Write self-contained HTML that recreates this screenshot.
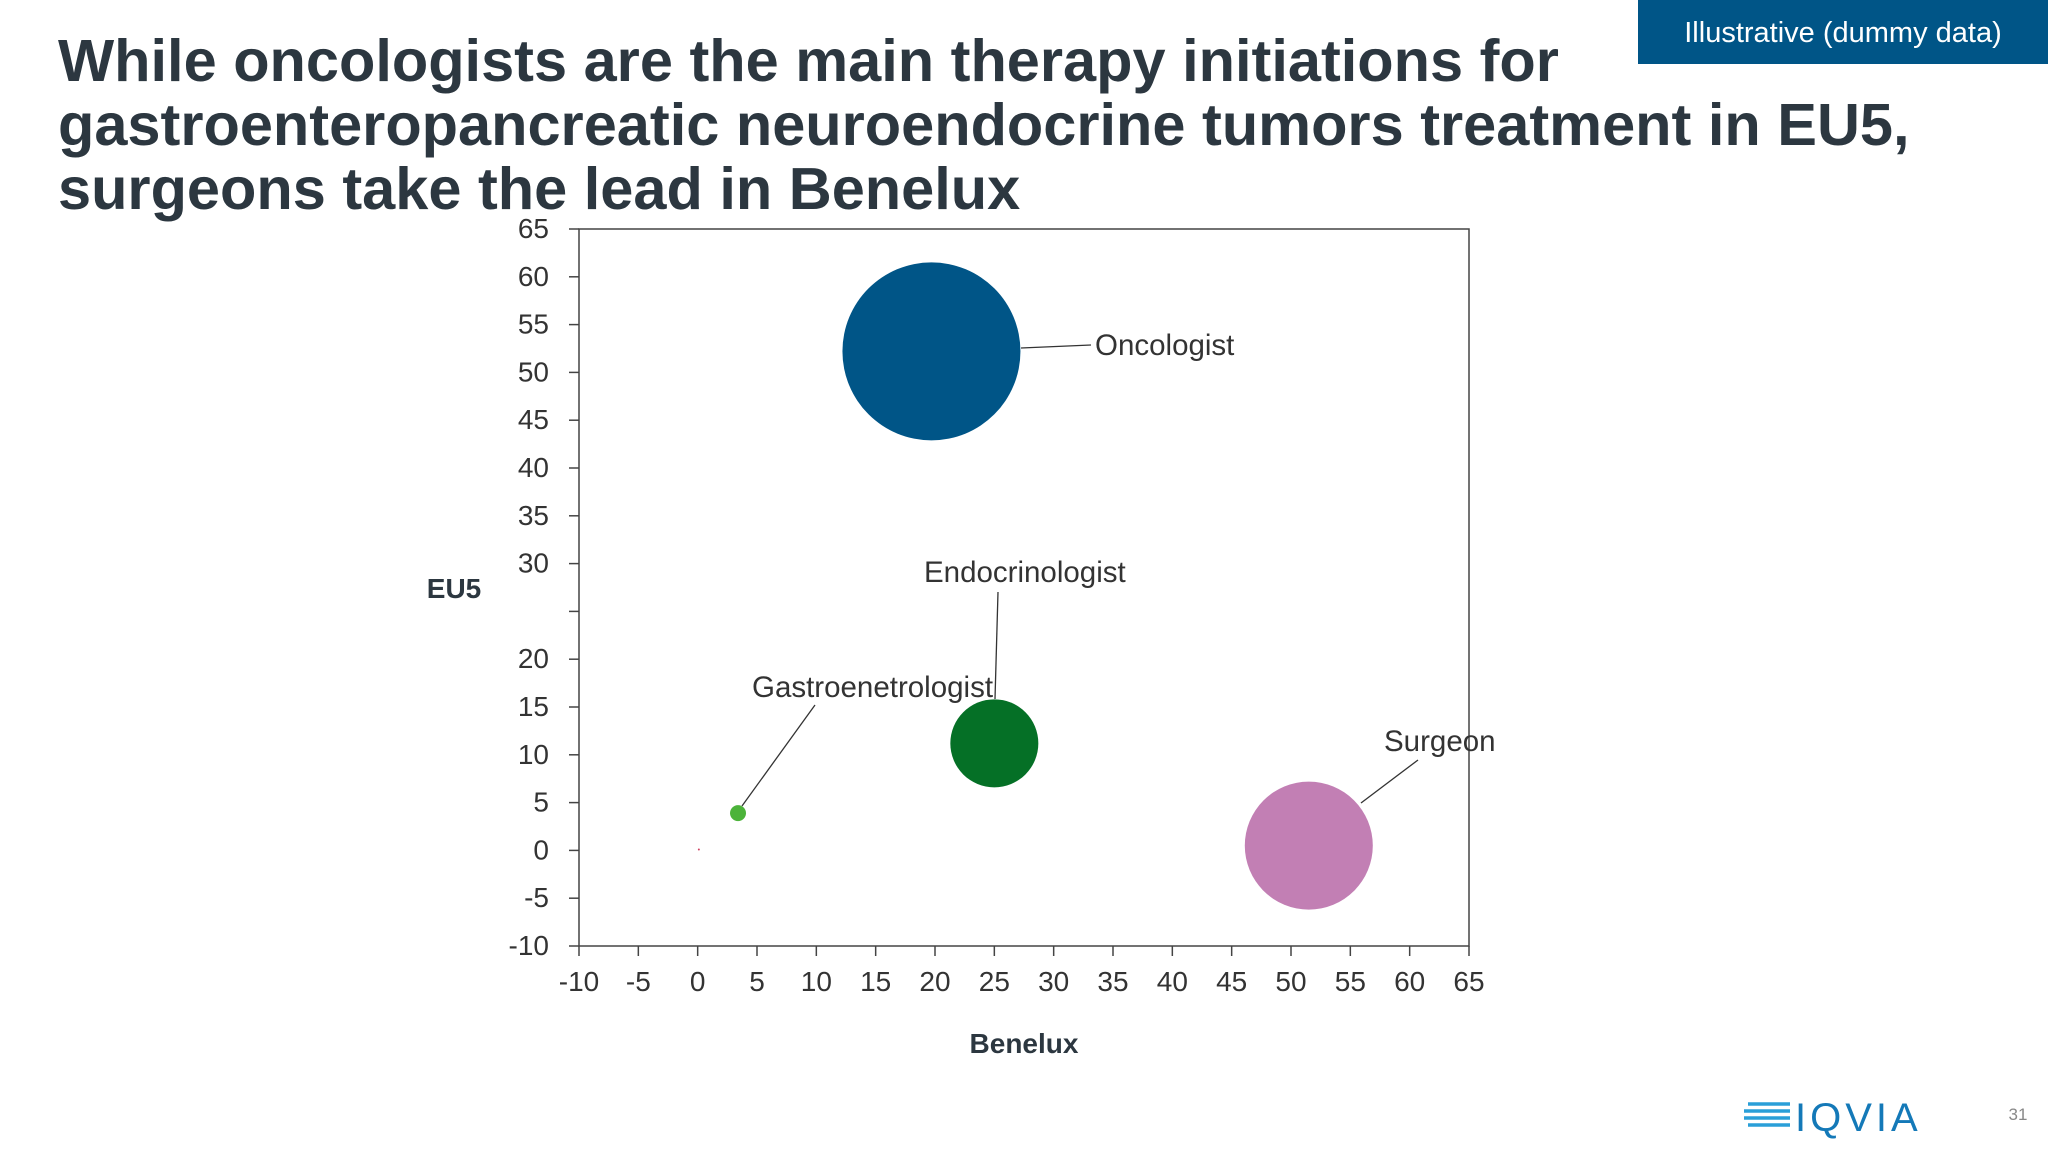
<!DOCTYPE html>
<html><head><meta charset="utf-8"><style>
html,body{margin:0;padding:0;background:#fff;}
svg{display:block;font-family:"Liberation Sans",Arial,sans-serif;}
</style></head><body>
<svg id="c" width="2048" height="1152" viewBox="0 0 2048 1152">
<text x="58" y="81" font-size="59.5" font-weight="bold" fill="#2c3740">While oncologists are the main therapy initiations for</text>
<text x="58" y="145" font-size="59.5" font-weight="bold" fill="#2c3740">gastroenteropancreatic neuroendocrine tumors treatment in EU5,</text>
<text x="58" y="209" font-size="59.5" font-weight="bold" fill="#2c3740">surgeons take the lead in Benelux</text>
<rect x="1638" y="0" width="410" height="64" fill="#005587"/>
<text x="1843" y="42" font-size="29" fill="#fff" text-anchor="middle">Illustrative (dummy data)</text>
<g id="plot"></g>
<g>
<g stroke="#2a9fd8" stroke-width="3.5">
<line x1="1748" y1="1104" x2="1790" y2="1104"/><line x1="1744" y1="1111" x2="1790" y2="1111"/><line x1="1744" y1="1118" x2="1790" y2="1118"/><line x1="1748" y1="1125" x2="1790" y2="1125"/>
</g>
<text x="1795" y="1131" font-size="40" fill="#1479b8" letter-spacing="4">IQVIA</text>
</g>
<text x="2018" y="1120" font-size="17" fill="#888" text-anchor="middle">31</text>
</svg>
<script>
const names=["Oncologist","Endocrinologist","Gastroenetrologist","Surgeon","Other"];
const xVals=[19.7,25,3.4,51.5,0.1];
const yVals=[52.2,11.2,3.9,0.5,0.1];
const radii=[89,44,8,64,1];
const colors=["#005587","#057026","#4cb33a","#c27fb4","#d04060"];
const xTicks=[-10,-5,0,5,10,15,20,25,30,35,40,45,50,55,60,65];
const yTicks=[-10,-5,0,5,10,15,20,25,30,35,40,45,50,55,60,65];
const L=579,R=1469,T=229,B=946;
const X=v=>L+(v+10)/75*(R-L);
const Y=v=>B-(v+10)/75*(B-T);
const NS="http://www.w3.org/2000/svg";
const g=document.getElementById('plot');
function mk(t,a,txt){const e=document.createElementNS(NS,t);for(const k in a)e.setAttribute(k,a[k]);if(txt!=null)e.textContent=txt;g.appendChild(e);return e;}
let e=mk('rect',{x:L,y:T,width:R-L,height:B-T,fill:'none',stroke:'#444','stroke-width':1.5});


xTicks.forEach(v=>{
 mk('line',{x1:X(v),x2:X(v),y1:B,y2:B+10,stroke:'#444','stroke-width':1.5});
 const t=mk('text',{x:X(v),y:B+45,'font-size':28,fill:'#333','text-anchor':'middle'},v);
 
 
});
yTicks.forEach(v=>{
 mk('line',{x1:L-10,x2:L,y1:Y(v),y2:Y(v),stroke:'#444','stroke-width':1.5});
 if(v===25)return;
 const t=mk('text',{x:L-30,y:Y(v)+9,'font-size':28,fill:'#333','text-anchor':'end'},v);
 
 
});
e=mk('text',{x:1024,y:1053,'font-size':28,'font-weight':'bold',fill:'#2c3740','text-anchor':'middle'},'Benelux');


e=mk('text',{x:454,y:598,'font-size':28,'font-weight':'bold',fill:'#2c3740','text-anchor':'middle'},'EU5');


names.forEach((n,i)=>{
 const c=mk('circle',{cx:X(xVals[i]),cy:Y(yVals[i]),r:radii[i],fill:colors[i]});
 
 
});
const labels=[
 {i:0,tx:1095,ty:355,lx1:1021,ly1:348,lx2:1091,ly2:345},
 {i:1,tx:924,ty:582,lx1:998,ly1:592,lx2:995,ly2:699},
 {i:2,tx:752,ty:697,lx1:815,ly1:705,lx2:742,ly2:806},
 {i:3,tx:1384,ty:751,lx1:1418,ly1:760,lx2:1361,ly2:803}
];
labels.forEach(o=>{
 mk('line',{x1:o.lx1,y1:o.ly1,x2:o.lx2,y2:o.ly2,stroke:'#333','stroke-width':1.3});
 const t=mk('text',{x:o.tx,y:o.ty,'font-size':29.5,fill:'#333'},names[o.i]);
 
 
});
</script>
</body></html>
